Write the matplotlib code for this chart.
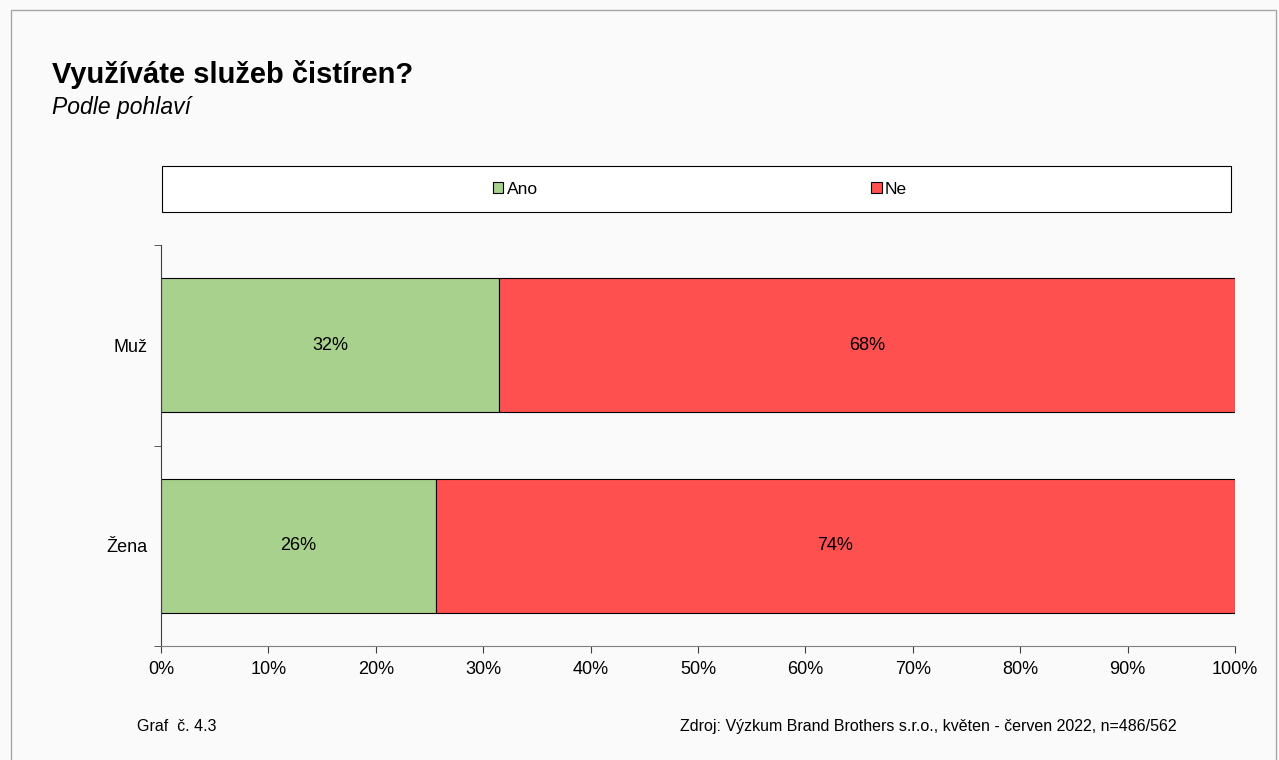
import matplotlib.pyplot as plt
import numpy as np
from matplotlib.patches import Rectangle
from matplotlib.ticker import PercentFormatter

plt.rcParams['font.family'] = ['Liberation Sans', 'DejaVu Sans']

categories = ['Žena', 'Muž']
ano = [25.6, 31.5]
ne = [74.4, 68.5]
ano_labels = ['26%', '32%']
ne_labels = ['74%', '68%']
series_names = ['Ano', 'Ne']

green = '#a9d18e'
red = '#ff5050'
bg = '#fafafa'

fig = plt.figure(figsize=(12.79, 7.6), dpi=100, facecolor=bg)
# outer frame
fig.patches.append(Rectangle((11 / 1279, -0.01), 1265 / 1279, 1 - 10 / 760 + 0.01,
                             transform=fig.transFigure, fill=False, edgecolor='#a6a6a6', lw=1))
# legend box
fig.patches.append(Rectangle((162 / 1279, 1 - 212 / 760), (1231 - 162) / 1279, 46 / 760,
                             transform=fig.transFigure, facecolor='white', edgecolor='black', lw=0.8))

ax = fig.add_axes([161 / 1279, 1 - 646 / 760, (1235 - 161) / 1279, (646 - 245) / 760])
ax.set_facecolor(bg)

y = np.arange(len(categories))
ax.barh(y, ano, height=0.67, color=green, edgecolor='black', lw=0.8, label=series_names[0])
ax.barh(y, ne, left=ano, height=0.67, color=red, edgecolor='black', lw=0.8, label=series_names[1])

for i in range(len(categories)):
    ax.text(ano[i] / 2, y[i], ano_labels[i], ha='center', va='center', fontsize=13)
    ax.text(ano[i] + ne[i] / 2, y[i], ne_labels[i], ha='center', va='center', fontsize=13)

ax.set_xlim(0, 100)
ax.set_ylim(-0.5, 1.5)
ax.set_yticks(y)
ax.set_yticklabels(categories, fontsize=13)
ax.set_yticks([-0.5, 0.5, 1.5], minor=True)
ax.tick_params(axis='y', which='major', length=0, pad=10)
ax.tick_params(axis='y', which='minor', length=5, direction='out', color='#404040')
ax.set_xticks(np.arange(0, 101, 10))
ax.xaxis.set_major_formatter(PercentFormatter(decimals=0))
ax.tick_params(axis='x', length=5, direction='out', labelsize=13, pad=6, color='#404040')
for s in ['top', 'right']:
    ax.spines[s].set_visible(False)
ax.spines['left'].set_color('#404040')
ax.spines['bottom'].set_color('#808080')

leg = fig.legend(loc='center', bbox_to_anchor=(700 / 1279, 1 - 189 / 760),
                 ncol=2, fontsize=12.5, frameon=False, handlelength=0.6, handleheight=0.6,
                 handletextpad=0.2, columnspacing=19.2)

fig.text(52 / 1279, 1 - 83 / 760, 'Využíváte služeb čistíren?', fontsize=21, fontweight='bold')
fig.text(52 / 1279, 1 - 114 / 760, 'Podle pohlaví', fontsize=16.5, style='italic')
fig.text(137 / 1279, 1 - 731 / 760, 'Graf  č. 4.3', fontsize=11.5)
fig.text(680 / 1279, 1 - 731 / 760, 'Zdroj: Výzkum Brand Brothers s.r.o., květen - červen 2022, n=486/562', fontsize=11.5)

fig.savefig('out.png', dpi=100, facecolor=bg)
